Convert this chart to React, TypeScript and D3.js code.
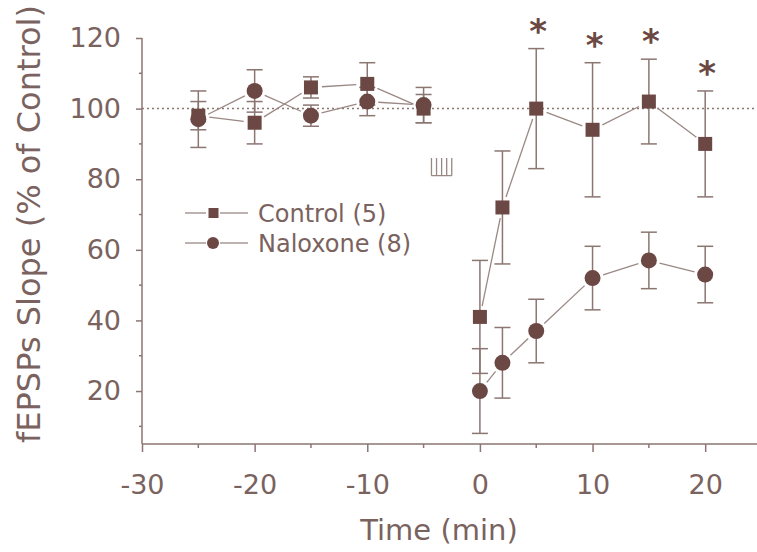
import { useEffect, useRef } from "react";
import * as d3 from "d3";

// time points (min) relative to tetanus
const times = [-25, -20, -15, -10, -5, 0, 2, 5, 10, 15, 20];
// control group, % of baseline slope, with SEM
const controlMean = [98, 96, 106, 107, 100, 41, 72, 100, 94, 102, 90];
const controlSem = [4, 6, 3, 6, 4, 16, 16, 17, 19, 12, 15];
// naloxone group
const naloxoneMean = [97, 105, 98, 102, 101, 20, 28, 37, 52, 57, 53];
const naloxoneSem = [8, 6, 3, 4, 5, 12, 10, 9, 9, 8, 8];
// significant points (control vs naloxone)
const starTimes = [5, 10, 15, 20];
// tetanus train marks; lines are not joined across the tetanus
const trainTimes = [-4.3, -3.85, -3.4, -2.95, -2.5];
const trainRange = [81, 86];
const breakAfter = -5;

const xTicks = [-30, -20, -10, 0, 10, 20];
const xMinor = [-25, -15, -5, 5, 15];
const yTicks = [20, 40, 60, 80, 100, 120];
const yMinor = [10, 30, 50, 70, 90, 110];

const legendLabels = ["Control (5)", "Naloxone (8)"];

const W = 757;
const H = 552;
const TEXT = "#7a625e";
const MARK = "#6b4843";
const LINE = "#9a8884";
const AXIS = "#8b7672";
const FONT = "'DejaVu Sans', sans-serif";

function App() {
  const svgRef = useRef<SVGSVGElement>(null);

  useEffect(() => {
    const svg = d3.select(svgRef.current);
    svg.selectAll("*").remove();

    const x = d3.scaleLinear().domain([-30, 24.6]).range([142, 757]);
    const y = d3.scaleLinear().domain([5, 120]).range([444, 38]);

    // dotted baseline at 100%
    svg
      .append("line")
      .attr("x1", x(-30))
      .attr("x2", W)
      .attr("y1", y(100))
      .attr("y2", y(100))
      .attr("stroke", AXIS)
      .attr("stroke-width", 1.5)
      .attr("stroke-dasharray", "2,3");

    // axes
    const xAxis = d3
      .axisBottom(x)
      .tickValues(xTicks)
      .tickSize(8)
      .tickPadding(23)
      .tickFormat((d) => String(d));
    const gx = svg.append("g").attr("transform", `translate(0,444)`).call(xAxis);
    gx.select(".domain").attr("d", `M${x(-30)},0H${W}`);

    const yAxis = d3
      .axisLeft(y)
      .tickValues(yTicks)
      .tickSize(6)
      .tickPadding(15)
      .tickFormat((d) => String(d));
    const gy = svg.append("g").attr("transform", `translate(142,0)`).call(yAxis);
    gy.select(".domain").attr("d", `M0,${y(120)}V444`);

    [gx, gy].forEach((g) => {
      g.selectAll(".domain").attr("stroke", AXIS).attr("stroke-width", 1.5);
      g.selectAll(".tick line").attr("stroke", AXIS).attr("stroke-width", 1.5);
      g.selectAll(".tick text")
        .attr("fill", TEXT)
        .attr("font-family", FONT)
        .attr("font-size", 27);
    });
    gx.selectAll(".tick line").attr("y2", 8);

    svg
      .append("g")
      .selectAll("line")
      .data(xMinor)
      .join("line")
      .attr("x1", (d) => x(d))
      .attr("x2", (d) => x(d))
      .attr("y1", 444)
      .attr("y2", 448)
      .attr("stroke", AXIS)
      .attr("stroke-width", 1.5);

    svg
      .append("g")
      .selectAll("line")
      .data(yMinor)
      .join("line")
      .attr("x1", 142)
      .attr("x2", 139)
      .attr("y1", (d) => y(d))
      .attr("y2", (d) => y(d))
      .attr("stroke", AXIS)
      .attr("stroke-width", 1.5);

    // axis titles
    svg
      .append("text")
      .attr("x", 439)
      .attr("y", 540)
      .attr("text-anchor", "middle")
      .attr("font-family", FONT)
      .attr("font-size", 29)
      .attr("fill", TEXT)
      .text("Time (min)");

    svg
      .append("text")
      .attr("transform", "translate(40,224) rotate(-90)")
      .attr("text-anchor", "middle")
      .attr("font-family", FONT)
      .attr("font-size", 32)
      .attr("fill", TEXT)
      .text("fEPSPs Slope (% of Control)");

    const series = [
      { mean: controlMean, sem: controlSem },
      { mean: naloxoneMean, sem: naloxoneSem },
    ];

    // connecting lines, stopped short of the markers
    const gap = 11;
    series.forEach((s) => {
      const pts = times.map((t, i) => [x(t), y(s.mean[i]), t]);
      const segs = d3
        .pairs(pts)
        .filter(([a]) => a[2] !== breakAfter)
        .map(([a, b]) => {
          const dx = b[0] - a[0];
          const dy = b[1] - a[1];
          const len = Math.hypot(dx, dy);
          const ux = dx / len;
          const uy = dy / len;
          return [a[0] + ux * gap, a[1] + uy * gap, b[0] - ux * gap, b[1] - uy * gap];
        });
      svg
        .append("g")
        .selectAll("line")
        .data(segs)
        .join("line")
        .attr("x1", (d) => d[0])
        .attr("y1", (d) => d[1])
        .attr("x2", (d) => d[2])
        .attr("y2", (d) => d[3])
        .attr("stroke", LINE)
        .attr("stroke-width", 1.3);
    });

    // error bars
    series.forEach((s) => {
      const g = svg.append("g").attr("stroke", AXIS).attr("stroke-width", 1.5);
      times.forEach((t, i) => {
        const cx = x(t);
        const lo = y(s.mean[i] - s.sem[i]);
        const hi = y(s.mean[i] + s.sem[i]);
        g.append("line").attr("x1", cx).attr("x2", cx).attr("y1", lo).attr("y2", hi);
        g.append("line").attr("x1", cx - 8).attr("x2", cx + 8).attr("y1", lo).attr("y2", lo);
        g.append("line").attr("x1", cx - 8).attr("x2", cx + 8).attr("y1", hi).attr("y2", hi);
      });
    });

    // markers
    svg
      .append("g")
      .selectAll("circle")
      .data(times)
      .join("circle")
      .attr("cx", (d) => x(d))
      .attr("cy", (d, i) => y(naloxoneMean[i]))
      .attr("r", 8)
      .attr("fill", MARK);

    svg
      .append("g")
      .selectAll("rect")
      .data(times)
      .join("rect")
      .attr("x", (d) => x(d) - 7)
      .attr("y", (d, i) => y(controlMean[i]) - 7)
      .attr("width", 14)
      .attr("height", 14)
      .attr("fill", MARK);

    // significance stars above control error bars
    svg
      .append("g")
      .selectAll("text")
      .data(starTimes)
      .join("text")
      .attr("x", (d) => x(d) + 2)
      .attr("y", (d) => {
        const i = times.indexOf(d);
        return y(controlMean[i] + controlSem[i]) - 6;
      })
      .attr("text-anchor", "middle")
      .attr("font-family", FONT)
      .attr("font-weight", "bold")
      .attr("font-size", 34)
      .attr("fill", MARK)
      .text("*");

    // tetanus train
    const train = trainTimes.map((t) => x(t));
    svg
      .append("path")
      .attr(
        "d",
        train.map((px) => `M${px},${y(trainRange[1])}V${y(trainRange[0])}`).join("") +
          `M${train[0]},${y(trainRange[0])}H${train[train.length - 1]}`
      )
      .attr("fill", "none")
      .attr("stroke", LINE)
      .attr("stroke-width", 1.3);

    // legend
    const lg = svg.append("g").attr("transform", "translate(185,213)");
    legendLabels.forEach((label, i) => {
      const row = lg.append("g").attr("transform", `translate(0,${i * 30})`);
      row.append("line").attr("x1", 0).attr("x2", 21).attr("stroke", LINE).attr("stroke-width", 1.3);
      row.append("line").attr("x1", 35).attr("x2", 63).attr("stroke", LINE).attr("stroke-width", 1.3);
      if (i === 0) {
        row.append("rect").attr("x", 23.5).attr("y", -5).attr("width", 10).attr("height", 10).attr("fill", MARK);
      } else {
        row.append("circle").attr("cx", 28).attr("r", 6).attr("fill", MARK);
      }
      row
        .append("text")
        .attr("x", 73)
        .attr("dy", "0.36em")
        .attr("font-family", FONT)
        .attr("font-size", 24)
        .attr("fill", TEXT)
        .text(label);
    });
  }, []);

  return (
    <svg
      ref={svgRef}
      width={W}
      height={H}
      style={{ position: "absolute", left: 0, top: 0, background: "#fff" }}
    ></svg>
  );
}

export default App;
